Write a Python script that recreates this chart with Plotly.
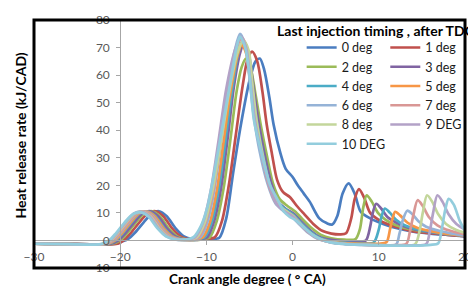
import plotly.graph_objects as go

names = ["0 deg", "1 deg", "2 deg", "3 deg", "4 deg", "5 deg", "6 deg", "7 deg", "8 deg", "9 DEG", "10 DEG"]
colors = ["#4A7DC0", "#C0504D", "#9BBB59", "#8064A2", "#4BACC6", "#F79646",
          "#95B3D7", "#D99795", "#C3D69B", "#B3A2C7", "#93CDDD"]

x0 = [-30,-26,-23,-20.5,-19.8,-19.1,-18.3,-17.3,-16.3,-15.5,-14.6,-13.6,-12.6,-11.6,-10.5,-9.5,-8.5,-7.7,-6.9,-6.0,-5.0,-4.3,-3.8,-3.3,-2.7,-2.2,-1.4,-0.8,0.0,0.6,1.3,2.0,3.1,4.0,4.6,5.2,5.8,6.5,7.2,7.9,9.0,10.5,12,14,16,18,20]
y0 = [-1.2,-1.3,-1.4,-1.2,-0.4,0.5,2.8,6.5,9.8,10.6,8.8,4.5,1.5,0.5,0.3,0.5,1.0,8,24.5,42,58,65,66,62,52,42,31.5,26,23,20,17,14,8,6.2,5.8,9,17,20.7,17,10.4,8,6,4.5,3.2,2.5,2,1.5]

x1 = [-30,-26,-23,-20.3,-19.6,-18.8,-17.8,-16.8,-15.9,-15.0,-14.0,-13.0,-12.0,-11.0,-10.0,-9.0,-8.2,-7.4,-6.6,-5.8,-5.2,-4.7,-4.1,-3.5,-3.0,-2.4,-1.8,-1.1,-0.3,0.5,1.4,2.4,3.5,4.5,5.5,6.2,6.8,7.2,7.7,8.3,9.0,10,11,12.5,14,16,18,20]
y1 = [-1.2,-1.3,-1.4,-1.2,0,2.6,6.5,9.8,10.6,8.8,4.5,1.5,0.4,0.3,0.5,1.2,7,20,38,56,66,68.5,65,54,42,31.5,22,17.5,15.7,12.5,9.4,6,3.4,2.5,2.2,2.6,8,15,18.6,15.5,10,7.5,6,4.5,3.3,2.6,2,1.6]

x2 = [-30,-26,-23,-20.9,-20.0,-19.2,-18.2,-17.2,-16.3,-15.4,-14.4,-13.4,-12.4,-11.4,-10.5,-9.6,-8.8,-8.0,-7.2,-6.5,-5.9,-5.4,-4.9,-4.3,-3.7,-3.0,-2.3,-1.5,-0.6,0.3,1.2,2.2,3.3,4.5,6,7.3,7.8,8.2,8.6,9.2,9.9,10.8,12,13.5,15,17,19,20]
y2 = [-1.2,-1.3,-1.4,-1.2,0,2.6,6.5,9.8,10.6,8.8,4.5,1.5,0.4,0.2,0.4,1.2,7,19,37,54,63,66,63,53,42,31,21,15,12.5,10.5,7.5,4.5,2,0.8,0.3,0.5,4,12,16.4,14,10,7.5,5.5,4.2,3.4,2.6,2,1.8]

x3 = [-30,-26,-23,-21.1,-20.2,-19.4,-18.4,-17.4,-16.5,-15.6,-14.6,-13.6,-12.6,-11.6,-10.7,-9.9,-9.1,-8.3,-7.5,-6.8,-6.1,-5.6,-5.1,-4.6,-4.0,-3.3,-2.5,-1.7,-0.8,0.2,1.1,2.1,3.2,4.5,6,7.5,8.5,9.0,9.3,9.7,10.3,11,12,13.5,15,17,19,20]
y3 = [-1.2,-1.3,-1.4,-1.2,0,2.6,6.5,9.8,10.6,8.8,4.5,1.5,0.4,0.2,0.4,1.2,7,19,38,56,68,72,68,57,44,32,21,14,11.5,9.5,6.5,3.5,1.2,0.2,-0.3,-0.4,0,5,10,13.3,11.5,8.5,6.5,4.5,3.5,2.6,2,1.8]

x4 = [-30,-26,-23,-21.4,-20.5,-19.7,-18.7,-17.7,-16.8,-15.9,-14.9,-13.9,-12.9,-11.9,-11.0,-10.2,-9.4,-8.6,-7.8,-7.0,-6.3,-5.8,-5.3,-4.8,-4.2,-3.5,-2.7,-1.8,-0.9,0.1,1.0,2.0,3.1,4.5,6,8,9.4,10.0,10.3,10.7,11.3,12,13,14.5,16,18,20]
y4 = [-1.2,-1.3,-1.5,-1.2,0,2.6,6.5,9.8,10.5,8.8,4.5,1.5,0.4,0.2,0.4,1.2,6.5,18,36,55,68,72.5,69,58,44,32,21,14,11.5,9.3,6.3,3.3,1.0,-0.3,-0.8,-1.0,-0.8,4,8.5,11.6,10,7.5,5.5,4,3.2,2.3,1.8]

x5 = [-30,-26,-23,-21.5,-20.6,-19.8,-18.8,-17.8,-16.9,-16.0,-15.0,-14.0,-13.0,-12.0,-11.2,-10.4,-9.6,-8.8,-8.0,-7.2,-6.4,-5.9,-5.4,-4.9,-4.3,-3.6,-2.8,-1.9,-1.0,0.0,0.9,1.9,3.0,4.5,6,8,10,10.9,11.3,11.6,11.9,12.5,13.3,14.5,16,18,20]
y5 = [-1.2,-1.3,-1.5,-1.2,0,2.6,6.5,9.8,10.5,8.8,4.5,1.5,0.4,0.2,0.4,1.2,6.5,18,36,54,67,71,68,57,43,31.5,20.5,13.5,11,9,6,3,0.8,-0.5,-1.0,-1.2,-1.2,-0.6,4,8,10.4,9,6.5,4.5,3.4,2.4,1.8]

x6 = [-30,-26,-23,-21.7,-20.8,-20.0,-19.0,-18.0,-17.1,-16.2,-15.2,-14.2,-13.2,-12.2,-11.5,-10.7,-9.9,-9.1,-8.3,-7.5,-6.7,-6.1,-5.5,-5.0,-4.5,-3.8,-2.9,-2.0,-1.1,-0.1,0.8,1.8,2.9,4.5,6,8,10,12,12.4,12.8,13.3,13.9,14.6,15.5,17,18.5,20]
y6 = [-1.2,-1.3,-1.5,-1.3,0,2.6,6.5,9.8,10.5,8.8,4.5,1.5,0.4,0.2,0.4,1.2,6.5,18,36,55,69,75,71,59,45,32,20.5,13.5,10.8,8.6,5.8,2.8,0.6,-0.7,-1.2,-1.5,-1.7,-1.5,2.5,7.5,10.8,9.5,7,5,3.5,2.5,1.8]

x7 = [-30,-26,-23,-21.8,-20.9,-20.1,-19.1,-18.1,-17.2,-16.3,-15.3,-14.3,-13.3,-12.3,-11.6,-10.9,-10.1,-9.2,-8.3,-7.4,-6.6,-5.9,-5.3,-4.8,-4.3,-3.6,-2.8,-1.9,-1.0,0.0,0.9,1.9,3.0,4.5,6,8,10,12,13.2,13.6,14.0,14.5,15.1,15.8,16.8,18.3,20]
y7 = [-1.2,-1.3,-1.5,-1.3,0,2.6,6.5,9.8,10.5,8.8,4.5,1.5,0.4,0.2,0.4,1.2,6.5,18,36,55,68.5,73.5,70,58,44,31.5,20.5,13.5,11,8.8,5.8,2.8,0.6,-0.7,-1.2,-1.5,-1.7,-1.7,-1.2,3,9,14.6,12.5,8.5,5.5,3.5,2.2]

x8 = [-30,-26,-23,-22.0,-21.1,-20.3,-19.3,-18.3,-17.4,-16.5,-15.5,-14.5,-13.5,-12.5,-11.8,-11.1,-10.2,-9.3,-8.3,-7.3,-6.4,-5.7,-5.1,-4.7,-4.2,-3.5,-2.7,-1.8,-0.9,0.1,1.0,2.0,3.1,4.5,6,8,10,12,14.2,14.7,15.1,15.6,16.2,16.9,17.8,19,20]
y8 = [-1.2,-1.3,-1.5,-1.3,0,2.6,6.5,9.8,10.4,8.8,4.5,1.5,0.4,0.2,0.4,1.2,6.5,18,36,55,68,72.5,69,58,44,31.5,20.5,13.5,11,8.8,5.8,2.8,0.6,-0.7,-1.2,-1.5,-1.7,-1.8,-1.4,3,10,16.4,14,9.5,6,3.8,2.8]

x9 = [-30,-26,-23,-22.1,-21.2,-20.4,-19.4,-18.4,-17.5,-16.6,-15.6,-14.6,-13.6,-12.6,-12.0,-11.3,-10.4,-9.5,-8.6,-7.7,-6.7,-6.0,-5.4,-4.9,-4.4,-3.6,-2.7,-1.8,-0.9,0.1,1.0,2.0,3.1,4.5,6,8,10,12,14,15.5,15.9,16.3,16.8,17.4,18.1,19,20]
y9 = [-1.2,-1.3,-1.5,-1.3,0,2.6,6.5,9.8,10.4,8.8,4.5,1.5,0.4,0.2,0.4,1.2,6.5,18,36,55,69,74,70,58,44,31.5,20,13,10.5,8.5,5.5,2.6,0.5,-0.8,-1.3,-1.6,-1.8,-1.9,-1.8,-1.3,3,10,16.4,14,9.5,6,4]

x10 = [-30,-26,-23,-22.2,-21.3,-20.5,-19.5,-18.5,-17.6,-16.7,-15.7,-14.7,-13.7,-12.8,-12.2,-11.5,-10.6,-9.9,-9.1,-8.1,-7.2,-6.5,-6.1,-5.5,-5.0,-4.5,-3.6,-2.6,-1.6,-1.0,-0.3,0.3,1.2,2.2,3.2,4.5,6,8,10,12,14,16,16.9,17.3,17.7,18.1,18.7,19.4,20]
y10 = [-1.2,-1.3,-1.5,-1.3,0,2.6,6.5,9.6,10.2,8.6,4.5,1.5,0.4,0.2,0.4,1.2,5.5,12,24.5,42,58,70,74,70,60,44,31.5,20,14,10.4,8.5,7.5,5,2.3,0.5,-0.8,-1.3,-1.6,-1.8,-1.9,-1.9,-1.6,-1.0,4,11,15.1,13,7,3.5]

xs = [x0, x1, x2, x3, x4, x5, x6, x7, x8, x9, x10]
ys = [y0, y1, y2, y3, y4, y5, y6, y7, y8, y9, y10]

x_ticks = [-30, -20, -10, 0, 10, 20]
y_ticks = [-10, 0, 10, 20, 30, 40, 50, 60, 70, 80]

FONT = "Lato"
# page body has an 8px default margin; plot area lands at x 34..472, y 12..268 of the window
fig = go.Figure()
for i in range(len(names)):
    fig.add_trace(go.Scatter(
        x=xs[i], y=ys[i], mode="lines", name=names[i],
        line=dict(color=colors[i], width=2.7, shape="spline", smoothing=0.8),
        legend="legend" if i % 2 == 0 else "legend2",
    ))

leg_common = dict(bgcolor="rgba(0,0,0,0)", borderwidth=0, yanchor="top", xanchor="left",
                  font=dict(family=FONT, size=12.5, color="#1a1a1a"), tracegroupgap=0,
                  itemwidth=30)
PW, PH = 438, 256
fig.update_layout(
    width=468, height=282,
    margin=dict(l=26, r=4, t=4, b=22),
    paper_bgcolor="white", plot_bgcolor="white",
    showlegend=True,
    legend=dict(x=(306-34)/PW, y=0.948, **leg_common),
    legend2=dict(x=(391-34)/PW, y=0.948, **leg_common),
    xaxis=dict(range=[-30, 20], tickvals=x_ticks, showgrid=False, zeroline=False,
               showline=True, linecolor="#A6A6A6", linewidth=1,
               ticks="outside", ticklen=4, tickcolor="#A6A6A6",
               anchor="free", position=10/90, ticklabelstandoff=1,
               ticklabeloverflow="allow",
               tickfont=dict(family=FONT, size=12, color="#595959")),
    yaxis=dict(range=[-10, 80], tickvals=y_ticks, showgrid=False, zeroline=False,
               showline=True, linecolor="#A6A6A6", linewidth=1,
               ticks="outside", ticklen=4, tickcolor="#A6A6A6",
               anchor="free", position=0.2, ticklabelstandoff=4,
               ticklabeloverflow="allow",
               tickfont=dict(family=FONT, size=12, color="#595959")),
    shapes=[dict(type="rect", xref="paper", yref="paper", x0=0, y0=0, x1=1, y1=1,
                 line=dict(color="black", width=3), layer="above")],
    annotations=[
        dict(text="<b>Last injection timing , after TDC</b>", xref="paper", yref="paper",
             x=(279-34)/PW, y=(268-23)/PH, xanchor="left", yanchor="middle", showarrow=False,
             font=dict(family=FONT, size=14, color="black")),
        dict(text="<b>Heat release rate (kJ/CAD)</b>", xref="paper", yref="paper",
             x=(20-34)/PW, y=(268-131)/PH, xanchor="center", yanchor="middle",
             textangle=-90, showarrow=False, font=dict(family=FONT, size=14, color="black")),
        dict(text="<b>Crank angle degree ( ° CA)</b>", xref="paper", yref="paper",
             x=(251-34)/PW, y=(268-279)/PH, xanchor="center", yanchor="middle",
             showarrow=False, font=dict(family=FONT, size=13.5, color="black")),
    ],
)
fig.write_html("out.html")
